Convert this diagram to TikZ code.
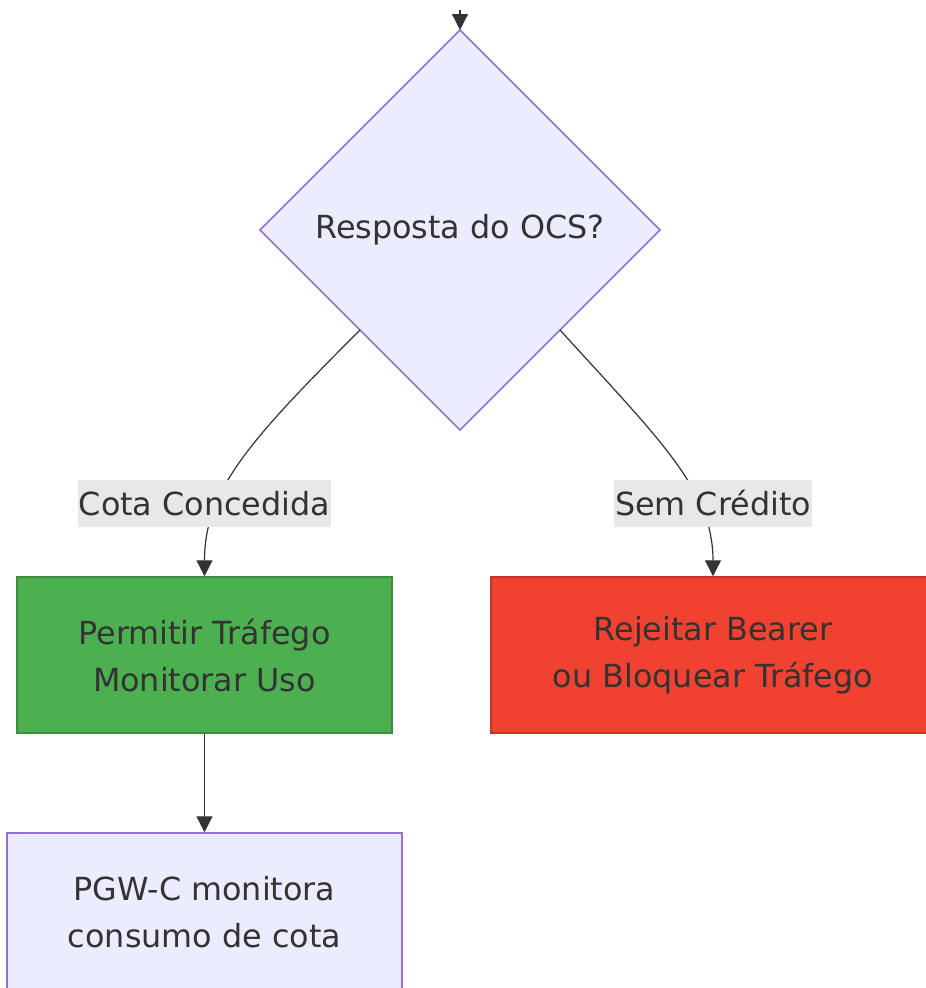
\documentclass[tikz,border=0pt]{standalone}
\usepackage{fontspec}
\setmainfont{DejaVu Sans}
\usetikzlibrary{shapes.geometric,arrows.meta}
\definecolor{txt}{HTML}{333333}
\definecolor{lav}{HTML}{ECECFF}
\definecolor{lavedge}{HTML}{9370DB}
\definecolor{grnfill}{HTML}{4CAF50}
\definecolor{grnedge}{HTML}{3B8C3F}
\definecolor{redfill}{HTML}{F04131}
\definecolor{rededge}{HTML}{C73326}
\definecolor{lblbg}{HTML}{E8E8E8}
\tikzset{
  x=1pt,y=1pt,
  every node/.style={font=\fontsize{31.8}{47}\selectfont, text=txt, align=center},
  flow/.style={draw=txt, line width=1.2pt, -{Triangle[length=16pt,width=16pt]}},
  boxg/.style={draw=grnedge, fill=grnfill, line width=1.5pt, minimum width=375pt, minimum height=156pt, inner sep=0pt},
  boxr/.style={draw=rededge, fill=redfill, line width=1.5pt, minimum width=444pt, minimum height=156pt, inner sep=0pt},
  boxl/.style={draw=lavedge, fill=lav, line width=1.5pt, minimum width=395pt, minimum height=158pt, inner sep=0pt},
  lbl/.style={fill=lblbg, inner xsep=1pt, inner ysep=0pt, minimum height=47pt}
}
\begin{document}
\begin{tikzpicture}
\useasboundingbox (0,0) rectangle (926,-988);
\clip (0,0) rectangle (926,-988);
\fill[white] (0,0) rectangle (926,-988);
\node[diamond, draw=lavedge, fill=lav, line width=1.5pt, minimum width=400pt, minimum height=400pt, aspect=1, inner sep=0pt, outer sep=0pt] (dia) at (460,-230) {Resposta do OCS?};
\node[boxg] (grn) at (204.5,-655) {Permitir Tráfego\\Monitorar Uso};
\node[boxr] (red) at (713,-655) {Rejeitar Bearer\\ou Bloquear Tráfego};
\node[boxl] (pgw) at (204.5,-912) {PGW-C monitora\\consumo de cota};
\coordinate (start) at (460,-10);
\draw[flow] (start) -- (dia.north);
\draw[flow] (dia.south west) .. controls (250,-440) and (204.5,-490) .. (grn.north);
\draw[flow] (dia.south east) .. controls (660,-440) and (713,-490) .. (red.north);
\draw[flow] (grn.south) -- (pgw.north);
\node[lbl] (l1) at (204.5,-503.5) {Cota Concedida};
\node[lbl] (l2) at (713,-503.5) {Sem Crédito};
\end{tikzpicture}
\end{document}
